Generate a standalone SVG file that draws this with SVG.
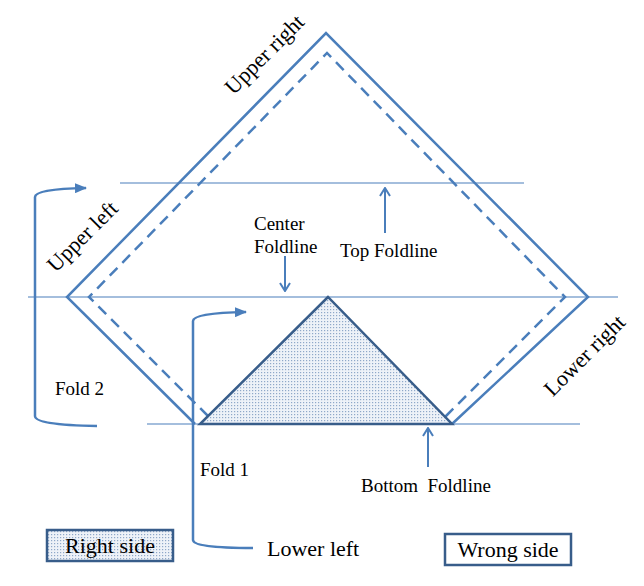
<svg xmlns="http://www.w3.org/2000/svg" width="644" height="586" viewBox="0 0 644 586">
  <defs>
    <pattern id="dots" width="3" height="3" patternUnits="userSpaceOnUse">
      <rect width="3" height="3" fill="#eef2f8"/>
      <rect x="0" y="0" width="1.2" height="1.2" fill="#8fa8c9"/>
    </pattern>
    <marker id="head" viewBox="0 0 12 10" refX="11" refY="5" markerWidth="12" markerHeight="10" markerUnits="userSpaceOnUse" orient="auto">
      <path d="M0,0 L12,5 L0,10 Z" fill="#4a7ebb"/>
    </marker>
    <marker id="open" viewBox="0 0 10 12" refX="9" refY="6" markerWidth="10" markerHeight="12" markerUnits="userSpaceOnUse" orient="auto">
      <path d="M1,1 L9,6 L1,11" fill="none" stroke="#4a7ebb" stroke-width="2"/>
    </marker>
  </defs>
  <style>
    .fold { stroke: #4a7ebb; stroke-width: 1.2; fill: none; }
    .outer { stroke: #4a7ebb; stroke-width: 2.5; fill: none; stroke-linejoin: miter; }
    .dash { stroke: #4a7ebb; stroke-width: 2.5; fill: none; stroke-dasharray: 11 7; }
    .arrow { stroke: #4a7ebb; stroke-width: 2.5; fill: none; }
    .small { stroke: #4a7ebb; stroke-width: 2; fill: none; }
    .lbl { font-family: "Liberation Serif", "Times New Roman", serif; font-size: 19px; fill: #000; }
    .big { font-family: "Liberation Serif", "Times New Roman", serif; font-size: 22px; fill: #000; }
  </style>
  <rect width="644" height="586" fill="#ffffff"/>

  <g id="foldlines">
    <line class="fold" x1="120" y1="183" x2="524" y2="183"/>
    <line class="fold" x1="28" y1="297" x2="618" y2="297"/>
    <line class="fold" x1="147" y1="424" x2="580" y2="424"/>
  </g>

  <g id="square">
    <polyline class="outer" points="195,424 67,297 326,33 588,297 452,424"/>
    <polyline class="dash" points="208,416 89,297 327,53 565,297 445,417"/>
  </g>

  <g id="right-side-triangle">
    <polygon points="328,297 200,424 452,424" fill="url(#dots)" stroke="#385d8a" stroke-width="2.5" stroke-linejoin="miter"/>
  </g>

  <g id="connectors">
    <path class="arrow" d="M97,426 Q35,425 35,416 V197 Q35,189 86,188" marker-end="url(#head)"/>
    <path class="arrow" d="M253,548 Q193,548 193,540 V321 Q193,313 246,312" marker-end="url(#head)"/>
    <line class="small" x1="285" y1="256" x2="285" y2="291" marker-end="url(#open)"/>
    <line class="small" x1="385" y1="233" x2="385" y2="188" marker-end="url(#open)"/>
    <line class="small" x1="428" y1="467" x2="428" y2="428" marker-end="url(#open)"/>
  </g>

  <g id="labels">
    <text class="big" transform="translate(266,56) rotate(-45)" text-anchor="middle" dominant-baseline="middle">Upper right</text>
    <text class="big" transform="translate(84,238) rotate(-45)" text-anchor="middle" dominant-baseline="middle">Upper left</text>
    <text class="big" transform="translate(586,357) rotate(-45)" text-anchor="middle" dominant-baseline="middle">Lower right</text>
    <text class="lbl" x="254" y="230">Center</text>
    <text class="lbl" x="254" y="253">Foldline</text>
    <text class="lbl" x="340" y="257">Top Foldline</text>
    <text class="lbl" x="55" y="395">Fold 2</text>
    <text class="lbl" x="200" y="476">Fold 1</text>
    <text class="lbl" x="361" y="492" xml:space="preserve">Bottom  Foldline</text>
    <text class="big" x="267" y="556">Lower left</text>
  </g>

  <g id="legend-right-side">
    <rect x="47" y="530" width="126" height="31" fill="url(#dots)" stroke="#385d8a" stroke-width="2.5"/>
    <text class="big" x="110" y="553" text-anchor="middle">Right side</text>
  </g>
  <g id="legend-wrong-side">
    <rect x="445" y="534" width="126" height="31" fill="#ffffff" stroke="#385d8a" stroke-width="2.5"/>
    <text class="big" x="508" y="557" text-anchor="middle">Wrong side</text>
  </g>
</svg>
